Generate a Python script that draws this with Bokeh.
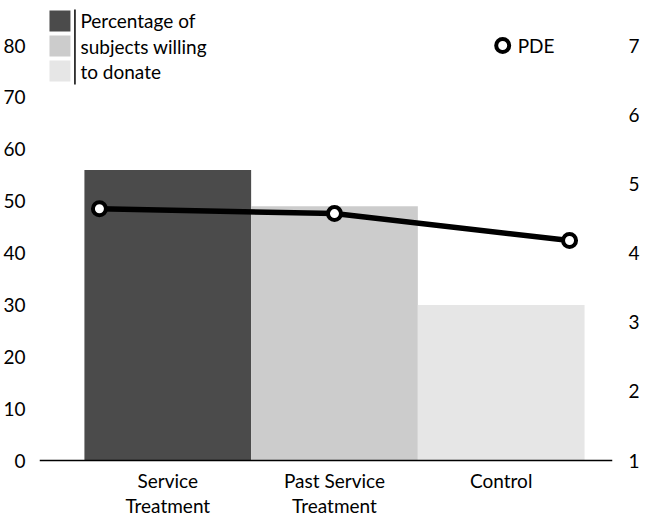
from bokeh.plotting import figure
from bokeh.models import Range1d, LinearAxis, FixedTicker, Label, Span
from bokeh.embed import file_html
from bokeh.resources import INLINE

# ---- data ----
categories = ["Service\nTreatment", "Past Service\nTreatment", "Control"]
pct_willing = [56, 49, 30]
pde = [4.64, 4.57, 4.18]
pde_x = [0.09, 1.5, 2.91]
bar_colors = ["#4b4b4b", "#cccccc", "#e6e6e6"]
left_ticks = [0, 10, 20, 30, 40, 50, 60, 70, 80]
right_ticks = [1, 2, 3, 4, 5, 6, 7]
legend_text = "Percentage of\nsubjects willing\nto donate"

FONT = "Lato"
FS = "19px"
W, H = 645, 516
BL, BR, BT, BB = 38, 33, 5, 0
ZERO_PX = 460  # pixel row of the value axis origin
frame_w = W - BL - BR
cat_px = 167.0
x0 = -(83 - BL) / cat_px
x1 = x0 + frame_w / cat_px
y_px = 5.1875
y0 = -(H - BB - ZERO_PX) / y_px
y1 = (ZERO_PX - BT) / y_px
r0 = 1 + y0 * 6 / 80
r1 = 1 + y1 * 6 / 80


def fx(px):
    return x0 + (px - BL) / cat_px


def fy(py):
    return (ZERO_PX - py) / y_px


p = figure(width=W, height=H, output_backend="svg", toolbar_location=None,
           x_range=Range1d(x0, x1), y_range=Range1d(y0, y1),
           min_border_left=BL, min_border_right=BR, min_border_top=BT, min_border_bottom=BB)
p.extra_y_ranges = {"pde": Range1d(r0, r1)}
p.outline_line_color = None
p.xgrid.visible = False
p.ygrid.visible = False
p.xaxis.visible = False
p.background_fill_color = "white"
p.border_fill_color = "white"

xs = [i + 0.5 for i in range(len(categories))]
p.vbar(x=xs, bottom=0, top=pct_willing, width=1.0, fill_color=bar_colors, line_color=None)

# baseline (x axis line)
p.add_layout(Span(location=0, dimension="width", line_color="black", line_width=1.5))

p.line(pde_x, pde, y_range_name="pde", line_color="black", line_width=5.5)
p.scatter(pde_x, pde, y_range_name="pde", size=13, fill_color="white",
          line_color="black", line_width=4)

# category labels (two-line) below the baseline
for x, c in zip(xs, categories):
    for j, line in enumerate(c.split("\n")):
        p.add_layout(Label(x=x, y=fy(480 + j * 25), text=line, text_font=FONT,
                           text_font_size=FS, text_align="center",
                           text_baseline="middle", text_color="black"))

ya = p.yaxis[0]
ya.ticker = FixedTicker(ticks=left_ticks)
ya.axis_line_color = None
ya.major_tick_line_color = None
ya.minor_tick_line_color = None
ya.major_label_text_font = FONT
ya.major_label_text_font_size = FS
ya.major_label_text_color = "black"
ya.major_label_standoff = 8

ra = LinearAxis(y_range_name="pde", ticker=FixedTicker(ticks=right_ticks))
ra.axis_line_color = None
ra.major_tick_line_color = None
ra.minor_tick_line_color = None
ra.major_label_text_font = FONT
ra.major_label_text_font_size = FS
ra.major_label_text_color = "black"
ra.major_label_standoff = 10
p.add_layout(ra, "right")

# legend for bars
for i, c in enumerate(bar_colors):
    top = 10 + i * 25
    p.quad(left=fx(48), right=fx(69), top=fy(top), bottom=fy(top + 21),
           fill_color=c, line_color=None)
p.line([fx(73.5), fx(73.5)], [fy(9), fy(84)], line_color="black", line_width=1.5)
for i, line in enumerate(legend_text.split("\n")):
    p.add_layout(Label(x=fx(79), y=fy(20 + i * 25.5), text=line, text_font=FONT,
                       text_font_size=FS, text_baseline="middle", text_color="black"))

# legend for PDE
p.scatter([fx(502)], [fy(45)], size=13, fill_color="white", line_color="black", line_width=4)
p.add_layout(Label(x=fx(517), y=fy(45), text="PDE", text_font=FONT,
                   text_font_size=FS, text_baseline="middle", text_color="black"))

open("out.html", "w").write(file_html(p, INLINE))
